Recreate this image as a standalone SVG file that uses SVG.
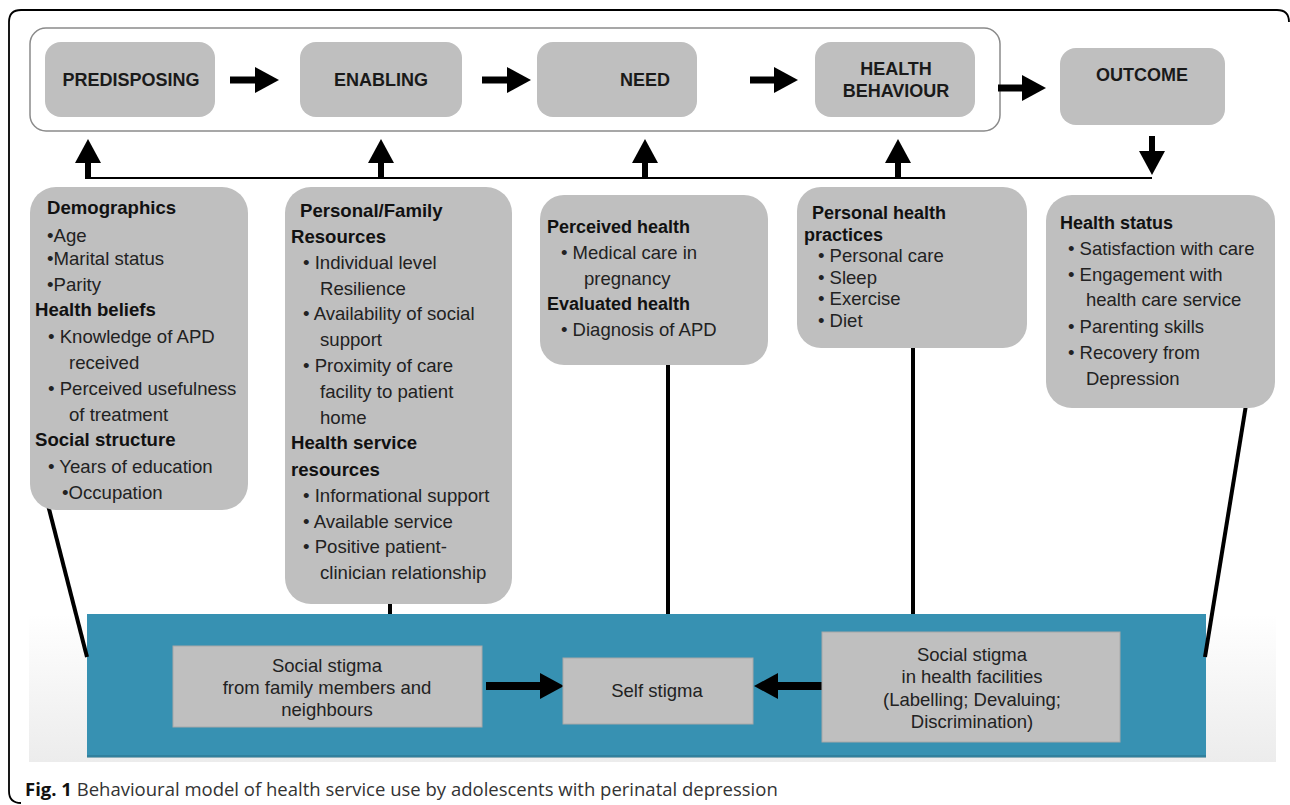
<svg xmlns="http://www.w3.org/2000/svg" width="1290" height="805" viewBox="0 0 1290 805">
<defs>
<style>
.box{fill:#bfbfbf;}
.top{font-family:"Liberation Sans",Arial,sans-serif;font-weight:bold;font-size:18px;fill:#1a1a1a;text-anchor:middle;}
.h{font-family:"Liberation Sans",Arial,sans-serif;font-weight:bold;font-size:18.6px;fill:#111;}
.t{font-family:"Liberation Sans",Arial,sans-serif;font-size:18.6px;fill:#222;}
.h2{font-family:"Liberation Sans",Arial,sans-serif;font-weight:bold;font-size:18px;fill:#111;}
.t2{font-family:"Liberation Sans",Arial,sans-serif;font-size:18.5px;fill:#222;}
.s{font-family:"Liberation Sans",Arial,sans-serif;font-size:18.5px;fill:#222;text-anchor:middle;}
.conn{stroke:#000;fill:none;}
.sq{fill:#bfbfbf;stroke:#a8a8a8;stroke-width:1;}
</style>
<marker id="ah" viewBox="0 0 24 26" refX="0" refY="13" markerWidth="24" markerHeight="26" markerUnits="userSpaceOnUse" orient="auto">
<path d="M0,0 L24,13 L0,26 Z" fill="#000"/>
</marker>
<linearGradient id="shade" x1="0" y1="0" x2="0" y2="1">
<stop offset="0" stop-color="#ffffff"/>
<stop offset="1" stop-color="#ececec"/>
</linearGradient>
</defs>
<rect width="1290" height="805" fill="#fff"/>
<path d="M1289 22 Q1289 10 1277 10 L21 10 Q9 10 9 22 L9 791 Q9 803 21 803" fill="none" stroke="#000" stroke-width="1.8"/>

<g id="framework">
<rect x="30" y="28" width="970" height="103" rx="16" fill="#fff" stroke="#8a8a8a" stroke-width="1.5"/>
</g>
<g id="predisposing"><rect class="box" x="45" y="42" width="170" height="75" rx="16"/><text class="top" x="131" y="86">PREDISPOSING</text></g>
<g id="enabling"><rect class="box" x="300" y="42" width="162" height="75" rx="16"/><text class="top" x="381" y="86">ENABLING</text></g>
<g id="need"><rect class="box" x="537" y="42" width="160" height="75" rx="16"/><text class="top" x="645" y="86">NEED</text></g>
<g id="health-behaviour"><rect class="box" x="815" y="42" width="160" height="75" rx="16"/><text class="top" x="896" y="75">HEALTH</text><text class="top" x="896" y="97">BEHAVIOUR</text></g>
<g id="outcome"><rect class="box" x="1060" y="48" width="165" height="77" rx="16"/><text class="top" x="1142" y="81">OUTCOME</text></g>

<g id="stigma-band">
<rect x="29" y="614" width="1247" height="148" fill="url(#shade)"/>
<rect x="87" y="614" width="1119" height="143" fill="#3791b2"/>
<rect x="87" y="755" width="1119" height="3" fill="#2a6f88" opacity="0.5"/>
</g>

<g id="connectors">
<line class="conn" x1="230" y1="80" x2="255" y2="80" stroke-width="7" marker-end="url(#ah)"/>
<line class="conn" x1="482" y1="80" x2="507" y2="80" stroke-width="7" marker-end="url(#ah)"/>
<line class="conn" x1="750" y1="80" x2="774" y2="80" stroke-width="7" marker-end="url(#ah)"/>
<line class="conn" x1="998" y1="88" x2="1022" y2="88" stroke-width="7" marker-end="url(#ah)"/>
<line class="conn" x1="88" y1="178" x2="1152" y2="178" stroke-width="2"/>
<line class="conn" x1="88" y1="179" x2="88" y2="163" stroke-width="6" marker-end="url(#ah)"/>
<line class="conn" x1="381" y1="179" x2="381" y2="163" stroke-width="6" marker-end="url(#ah)"/>
<line class="conn" x1="645" y1="179" x2="645" y2="163" stroke-width="6" marker-end="url(#ah)"/>
<line class="conn" x1="898" y1="179" x2="898" y2="163" stroke-width="6" marker-end="url(#ah)"/>
<line class="conn" x1="1152" y1="136" x2="1152" y2="151" stroke-width="6" marker-end="url(#ah)"/>
<line class="conn" x1="48" y1="505" x2="87" y2="657" stroke-width="4"/>
<line class="conn" x1="390" y1="600" x2="390" y2="614" stroke-width="4"/>
<line class="conn" x1="668" y1="362" x2="668" y2="614" stroke-width="4"/>
<line class="conn" x1="913" y1="345" x2="913" y2="614" stroke-width="4"/>
<line class="conn" x1="1246" y1="405" x2="1205" y2="657" stroke-width="4"/>
<line class="conn" x1="486" y1="686" x2="540" y2="686" stroke-width="8" marker-end="url(#ah)"/>
<line class="conn" x1="823" y1="686" x2="778" y2="686" stroke-width="8" marker-end="url(#ah)"/>
</g>

<g id="predisposing-factors">
<rect class="box" x="30" y="187" width="218" height="323" rx="26"/>
<text class="h" x="47" y="214">Demographics</text>
<text class="t" x="47" y="242">•Age</text>
<text class="t" x="47" y="265">•Marital status</text>
<text class="t" x="47" y="291">•Parity</text>
<text class="h" x="35" y="316">Health beliefs</text>
<text class="t" x="48" y="343">• Knowledge of APD</text>
<text class="t" x="69" y="369">received</text>
<text class="t" x="48" y="395">• Perceived usefulness</text>
<text class="t" x="69" y="421">of treatment</text>
<text class="h" x="35" y="446">Social structure</text>
<text class="t" x="48" y="473">• Years of education</text>
<text class="t" x="62" y="499">•Occupation</text>
</g>

<g id="enabling-factors">
<rect class="box" x="285" y="187" width="227" height="417" rx="26"/>
<text class="h" x="300" y="217">Personal/Family</text>
<text class="h" x="291" y="243">Resources</text>
<text class="t" x="303" y="269">• Individual level</text>
<text class="t" x="320" y="295">Resilience</text>
<text class="t" x="303" y="320">• Availability of social</text>
<text class="t" x="320" y="346">support</text>
<text class="t" x="303" y="372">• Proximity of care</text>
<text class="t" x="320" y="398">facility to patient</text>
<text class="t" x="320" y="424">home</text>
<text class="h" x="291" y="449">Health service</text>
<text class="h" x="291" y="476">resources</text>
<text class="t" x="303" y="502">• Informational support</text>
<text class="t" x="303" y="528">• Available service</text>
<text class="t" x="303" y="553">• Positive patient-</text>
<text class="t" x="320" y="579">clinician relationship</text>
</g>

<g id="need-factors">
<rect class="box" x="540" y="195" width="228" height="170" rx="24"/>
<text class="h2" x="547" y="233">Perceived health</text>
<text class="t2" x="561" y="259">• Medical care in</text>
<text class="t2" x="584" y="285">pregnancy</text>
<text class="h2" x="547" y="310">Evaluated health</text>
<text class="t2" x="561" y="336">• Diagnosis of APD</text>
</g>

<g id="behaviour-factors">
<rect class="box" x="797" y="187" width="230" height="161" rx="24"/>
<text class="h2" x="812" y="219">Personal health</text>
<text class="h2" x="804" y="241">practices</text>
<text class="t2" x="818" y="262">• Personal care</text>
<text class="t2" x="818" y="284">• Sleep</text>
<text class="t2" x="818" y="305">• Exercise</text>
<text class="t2" x="818" y="327">• Diet</text>
</g>

<g id="outcome-factors">
<rect class="box" x="1046" y="195" width="229" height="213" rx="26"/>
<text class="h2" x="1060" y="229">Health status</text>
<text class="t2" x="1068" y="255">• Satisfaction with care</text>
<text class="t2" x="1068" y="281">• Engagement with</text>
<text class="t2" x="1086" y="306">health care service</text>
<text class="t2" x="1068" y="333">• Parenting skills</text>
<text class="t2" x="1068" y="359">• Recovery from</text>
<text class="t2" x="1086" y="385">Depression</text>
</g>

<g id="family-stigma">
<rect class="sq" x="173" y="646" width="309" height="81"/>
<text class="s" x="327" y="672">Social stigma</text>
<text class="s" x="327" y="694">from family members and</text>
<text class="s" x="327" y="716">neighbours</text>
</g>
<g id="self-stigma">
<rect class="sq" x="563" y="658" width="190" height="66"/>
<text class="s" x="657" y="697">Self stigma</text>
</g>
<g id="facility-stigma">
<rect class="sq" x="822" y="632" width="298" height="110"/>
<text class="s" x="972" y="661">Social stigma</text>
<text class="s" x="972" y="683">in health facilities</text>
<text class="s" x="972" y="706">(Labelling; Devaluing;</text>
<text class="s" x="972" y="728">Discrimination)</text>
</g>

<text x="25" y="796" font-family="'Open Sans','Noto Sans',sans-serif" font-size="18.5" fill="#333"><tspan font-weight="bold" fill="#111">Fig. 1</tspan> Behavioural model of health service use by adolescents with perinatal depression</text>
</svg>
